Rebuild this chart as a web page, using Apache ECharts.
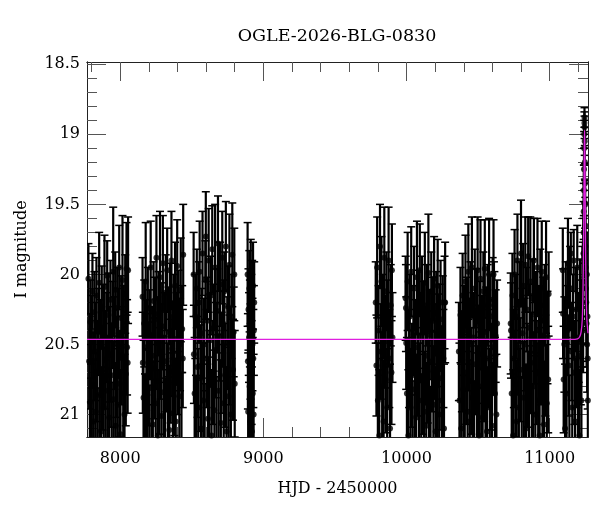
<!DOCTYPE html>
<html>
<head>
<meta charset="utf-8">
<script src="https://cdn.jsdelivr.net/npm/echarts@6/dist/echarts.min.js"></script>
<style>html,body{margin:0;padding:0;background:#fff;}#c{width:600px;height:512px;}</style>
</head>
<body>
<div id="c"></div>
<script>
// ---- data: [HJD-2450000, I mag, error] per observing season ----
const season1 = [[7778,20.03,.25],[7783,20.62,.34],[7788,20.91,.41],[7792,20.34,.30],[7797,21.22,.48],[7801,20.48,.33],[7806,20.12,.27],[7811,20.79,.38],[7815,21.05,.44],[7820,20.27,.29],[7825,20.55,.35],[7829,20.98,.42],[7834,20.15,.27],[7839,20.69,.36],[7843,21.31,.50],[7848,20.41,.31],[7853,20.06,.36],[7857,20.86,.40],[7862,20.52,.34],[7867,21.12,.46],[7871,20.23,.29],[7876,20.74,.37],[7881,20.38,.31],[7885,20.95,.42],[7890,20.09,.37],[7895,20.61,.35],[7899,21.18,.47],[7904,20.45,.32],[7909,20.01,.25],[7913,20.83,.39],[7918,20.29,.30],[7923,21.02,.44],[7927,20.57,.34],[7932,20.18,.28],[7937,20.72,.37],[7941,21.26,.49],[7946,20.36,.31],[7951,19.98,.46],[7955,20.89,.41],[7960,20.49,.33],[7965,20.11,.27],[7969,21.08,.45],[7974,20.66,.36],[7979,20.24,.29],[7983,20.93,.42],[7988,20.42,.32],[7993,19.95,.30],[7997,20.78,.38],[8002,21.14,.46],[8007,20.31,.30],[8011,20.58,.35],[8016,20.04,.46],[8021,20.85,.40],[8025,20.39,.31],[8030,21.0,.43],[8035,20.14,.28],[8039,20.71,.37],[8044,19.96,.33],[8048,20.52,.34],[8052,20.63,.36],[8055,19.97,.38]];
const season2 = [[8156,20.16,.28],[8158,20.63,.36],[8163,20.88,.41],[8168,20.35,.31],[8173,21.19,.48],[8178,20.05,.42],[8183,20.52,.34],[8188,20.97,.43],[8193,20.24,.29],[8198,20.71,.37],[8203,21.29,.50],[8208,20.43,.32],[8213,19.95,.33],[8218,20.81,.39],[8223,20.58,.35],[8228,21.07,.45],[8233,20.19,.28],[8238,20.67,.36],[8243,20.32,.30],[8248,20.92,.42],[8253,19.88,.30],[8258,20.49,.33],[8263,21.15,.47],[8268,20.28,.30],[8273,20.76,.38],[8278,20.02,.47],[8283,20.55,.34],[8288,21.01,.44],[8293,20.37,.31],[8298,19.92,.34],[8303,20.84,.40],[8308,20.45,.32],[8313,21.23,.49],[8318,20.13,.27],[8323,20.62,.36],[8328,19.97,.30],[8333,20.9,.41],[8338,20.41,.32],[8343,21.11,.46],[8348,20.21,.29],[8353,20.69,.37],[8358,19.9,.35],[8363,20.53,.34],[8368,20.99,.43],[8373,20.3,.30],[8378,20.77,.38],[8383,20.08,.31],[8388,21.05,.45],[8393,20.46,.33],[8398,19.94,.33],[8403,20.64,.36],[8408,20.26,.29],[8413,20.87,.40],[8418,20.5,.33],[8423,20.11,.37],[8428,21.17,.47],[8433,20.39,.31],[8437,20.6,.35],[8440,19.86,.36]];
const season3 = [[8513,20.0,.30],[8515,20.57,.35],[8520,20.85,.40],[8525,20.3,.30],[8530,21.2,.48],[8535,20.1,.28],[8540,20.66,.36],[8545,20.95,.42],[8550,20.2,.29],[8555,19.98,.36],[8560,20.74,.38],[8565,21.1,.46],[8570,20.42,.32],[8575,19.85,.30],[8580,20.9,.41],[8585,20.5,.33],[8590,21.27,.49],[8595,20.04,.28],[8598,19.73,.32],[8603,20.6,.35],[8608,20.33,.31],[8613,21.03,.44],[8618,19.9,.37],[8623,20.79,.39],[8628,20.47,.33],[8633,20.15,.28],[8638,21.15,.47],[8643,19.82,.31],[8648,20.7,.37],[8653,20.38,.31],[8658,20.97,.43],[8663,19.95,.45],[8668,20.54,.34],[8673,21.22,.49],[8678,20.26,.30],[8683,19.78,.34],[8688,20.83,.40],[8693,20.44,.32],[8698,20.07,.30],[8703,21.06,.45],[8708,20.63,.36],[8713,19.88,.33],[8718,20.35,.31],[8723,20.92,.42],[8728,20.12,.28],[8733,20.72,.37],[8738,19.8,.32],[8743,21.12,.46],[8748,20.49,.33],[8753,20.23,.29],[8758,20.87,.40],[8763,19.93,.36],[8768,20.58,.35],[8773,21.0,.44],[8778,20.3,.30],[8783,19.86,.37],[8788,20.68,.36],[8793,20.41,.32],[8797,20.0,.33],[8800,20.78,.38]];
const season4 = [[8890,20.0,.37],[8892,20.62,.34],[8894,20.98,.42],[8896,20.25,.29],[8898,21.2,.48],[8900,20.45,.32],[8902,20.1,.27],[8904,20.8,.39],[8906,20.35,.31],[8908,21.05,.44],[8910,20.55,.34],[8912,20.05,.30],[8914,20.9,.41],[8916,20.3,.30],[8918,20.7,.37],[8920,21.12,.46],[8922,20.18,.28],[8924,20.5,.33],[8926,20.85,.40],[8928,20.08,.31],[8930,20.6,.35],[8932,21.0,.43],[8934,20.4,.32],[8936,20.2,.29]];
const season5 = [[9785,20.2,.29],[9790,20.65,.36],[9795,19.95,.36],[9800,20.9,.41],[9805,20.4,.32],[9810,21.15,.47],[9815,19.8,.30],[9820,20.55,.34],[9825,20.05,.32],[9830,20.8,.39],[9835,20.3,.30],[9840,21.05,.44],[9845,19.88,.36],[9850,20.48,.33],[9855,20.75,.38],[9860,20.12,.28],[9865,20.95,.42],[9870,20.35,.31],[9875,19.9,.38],[9880,20.6,.35],[9885,21.1,.46],[9890,20.22,.29],[9895,20.7,.37],[9898,19.97,.33],[9902,20.45,.32]];
const season6 = [[9994,20.17,.30],[9996,20.24,.31],[9998,20.49,.33],[10003,20.85,.40],[10008,20.05,.35],[10013,21.15,.47],[10018,20.6,.35],[10023,20.3,.30],[10028,20.95,.42],[10033,19.98,.32],[10038,20.72,.37],[10043,21.25,.49],[10048,20.4,.32],[10053,20.1,.30],[10058,20.82,.39],[10063,20.52,.34],[10068,21.02,.44],[10073,20.02,.40],[10078,20.65,.36],[10083,20.27,.30],[10088,20.9,.41],[10093,19.97,.33],[10098,20.45,.32],[10103,21.18,.47],[10108,20.15,.28],[10113,20.76,.38],[10118,20.36,.31],[10123,20.98,.43],[10128,20.06,.36],[10133,20.58,.35],[10138,21.08,.45],[10143,20.22,.29],[10148,20.69,.37],[10153,19.99,.42],[10158,20.87,.40],[10163,20.43,.32],[10168,21.3,.50],[10173,20.12,.28],[10178,20.62,.36],[10183,20.33,.31],[10188,20.93,.42],[10193,20.03,.30],[10198,20.55,.34],[10203,21.12,.46],[10208,20.28,.30],[10213,20.79,.38],[10218,20.08,.33],[10223,20.47,.33],[10228,21.0,.44],[10233,20.38,.31],[10238,20.2,.30],[10243,20.74,.37],[10248,20.9,.41],[10253,20.32,.31],[10258,20.6,.35],[10262,21.1,.46],[10266,20.2,.33],[10270,20.2,.43]];
const season7 = [[10366,20.55,.35],[10370,20.9,.41],[10377,20.29,.34],[10382,21.1,.46],[10387,20.62,.36],[10392,20.15,.30],[10397,20.82,.39],[10402,20.4,.32],[10407,21.2,.48],[10412,20.05,.33],[10417,20.7,.37],[10422,20.33,.31],[10427,20.98,.43],[10432,19.98,.34],[10437,20.5,.33],[10442,21.05,.44],[10447,20.2,.29],[10452,20.76,.38],[10457,19.95,.36],[10462,20.88,.40],[10467,20.45,.32],[10472,21.25,.49],[10477,20.1,.28],[10482,20.64,.36],[10487,20.26,.30],[10492,20.93,.42],[10497,19.97,.38],[10502,20.57,.35],[10507,21.15,.47],[10512,20.36,.31],[10517,20.03,.42],[10522,20.8,.39],[10527,20.48,.33],[10532,21.02,.44],[10537,20.12,.28],[10542,20.68,.37],[10547,19.96,.35],[10552,20.86,.40],[10557,20.41,.32],[10562,21.12,.46],[10567,20.22,.29],[10572,20.6,.35],[10577,20.0,.40],[10582,20.95,.42],[10587,20.3,.30],[10592,20.73,.38],[10597,21.08,.45],[10602,20.18,.30],[10606,20.52,.34],[10608,20.0,.39],[10611,20.22,.31],[10614,20.28,.30],[10618,20.85,.40],[10623,20.44,.33],[10628,21.0,.43],[10633,20.35,.31]];
const season8 = [[10728,20.35,.36],[10730,20.4,.34],[10735,20.85,.40],[10740,20.15,.30],[10745,21.15,.47],[10750,20.6,.35],[10755,20.0,.32],[10760,20.78,.38],[10765,20.3,.30],[10770,21.05,.44],[10775,19.9,.33],[10780,20.52,.34],[10785,20.95,.42],[10790,20.2,.29],[10795,20.68,.37],[10800,19.85,.38],[10805,21.22,.49],[10810,20.42,.32],[10815,20.08,.30],[10820,20.88,.40],[10825,20.5,.33],[10830,19.93,.34],[10835,21.1,.46],[10840,20.25,.30],[10845,20.72,.37],[10850,19.87,.28],[10855,20.98,.43],[10860,20.38,.31],[10865,20.05,.46],[10870,20.63,.36],[10875,21.28,.50],[10880,20.17,.28],[10885,20.8,.39],[10890,19.9,.30],[10895,20.46,.32],[10900,21.0,.44],[10905,20.28,.30],[10910,20.7,.37],[10915,19.95,.35],[10920,20.9,.41],[10925,20.4,.32],[10930,21.15,.47],[10935,20.1,.28],[10940,20.58,.35],[10945,19.98,.36],[10950,20.83,.40],[10955,20.33,.31],[10960,21.07,.45],[10965,20.22,.29],[10970,20.65,.36],[10975,20.02,.40],[10980,20.92,.42],[10985,20.45,.33],[10990,20.75,.38],[10993,20.14,.30]];
const season9 = [[11092,19.97,.30],[11094,20.28,.32],[11098,20.75,.38],[11103,20.5,.34],[11108,21.1,.46],[11113,20.2,.29],[11118,20.85,.40],[11123,20.4,.32],[11128,19.92,.32],[11133,20.65,.36],[11138,21.2,.48],[11143,20.1,.30],[11148,19.85,.15],[11153,20.55,.35],[11158,20.95,.42],[11163,20.3,.30],[11168,19.9,.22],[11173,20.7,.37],[11178,21.05,.44],[11183,20.25,.30],[11188,20.6,.35],[11193,19.95,.30],[11198,20.88,.40],[11203,20.45,.32],[11208,21.15,.47],[11213,20.18,.29],[11218,20.58,.35],[11222,20.9,.41],[11226,20.35,.31],[11229,20.1,.30],[11232,20.05,.28],[11234,20.4,.30],[11236,19.85,.25],[11237,19.7,.22],[11238,19.55,.20],[11239,19.4,.18],[11240,19.25,.15],[11241,19.1,.12],[11242,19.0,.10],[11243,18.92,.08],[11243.5,18.88,.07],[11244,18.95,.08],[11245,19.05,.10],[11246,19.2,.12],[11247,19.35,.14],[11248,19.5,.17],[11249,19.65,.20],[11250,19.8,.22],[11252,19.95,.25],[11254,20.1,.28],[11256,20.2,.30],[11258,20.35,.31],[11260,20.0,.30],[11262,20.5,.34],[11264,20.3,.32],[11266,20.6,.36],[11267,20.9,.40]];
// model light curve: [HJD-2450000, I mag]
const modelCurve = [[7768,20.464],[11150,20.464],[11195,20.46],[11210,20.445],[11220,20.41],[11228,20.32],[11233,20.12],[11237,19.78],[11240,19.35],[11242,19.08],[11244,18.97],[11246,19.08],[11248,19.35],[11251,19.8],[11255,20.12],[11260,20.32],[11268,20.42]];
// axis ticks
const xMajor = [8000, 9000, 10000, 11000];
const xMinor = [7800,8200,8400,8600,8800,9200,9400,9600,9800,10200,10400,10600,10800,11200];
const yMajor = [18.5, 19, 19.5, 20, 20.5, 21];
const yMinor = [18.6,18.7,18.8,18.9,19.1,19.2,19.3,19.4,19.6,19.7,19.8,19.9,20.1,20.2,20.3,20.4,20.6,20.7,20.8,20.9,21.1];
const titleText = 'OGLE-2026-BLG-0830';
const xName = 'HJD - 2450000';
const yName = 'I magnitude';

const allObs = [].concat(season1, season2, season3, season4, season5, season6, season7, season8, season9);

const FONT = 'DejaVu Serif';
const X_MIN = 7768, X_MAX = 11268, Y_MIN = 18.484, Y_MAX = 21.16;
const tickColor = '#555';
const lineColor = '#222';

function xAxisDef(pos, ticks, len, showLabel, showName) {
  return {
    type: 'value', position: pos, min: X_MIN, max: X_MAX, gridIndex: 0,
    axisLine: { show: true, onZero: false, lineStyle: { color: lineColor, width: 1 } },
    axisTick: { show: true, inside: true, length: len, customValues: ticks, lineStyle: { color: tickColor, width: 1 } },
    axisLabel: { show: showLabel, customValues: ticks, margin: 14, color: '#000', fontFamily: FONT, fontSize: 16,
      formatter: function (v) { return String(v); } },
    splitLine: { show: false },
    name: showName ? xName : '', nameLocation: 'middle', nameGap: 44,
    nameTextStyle: { color: '#000', fontFamily: FONT, fontSize: 16 }
  };
}
function yAxisDef(pos, ticks, len, showLabel, showName) {
  return {
    type: 'value', position: pos, min: Y_MIN, max: Y_MAX, inverse: true, gridIndex: 0,
    axisLine: { show: true, onZero: false, lineStyle: { color: lineColor, width: 1 } },
    axisTick: { show: true, inside: true, length: len, customValues: ticks, lineStyle: { color: tickColor, width: 1 } },
    axisLabel: { show: showLabel, customValues: ticks, margin: 7, color: '#000', fontFamily: FONT, fontSize: 16,
      formatter: function (v) { return String(v); } },
    splitLine: { show: false },
    name: showName ? yName : '', nameLocation: 'middle', nameGap: 57,
    nameTextStyle: { color: '#000', fontFamily: FONT, fontSize: 16 }
  };
}

const chart = echarts.init(document.getElementById('c'), null, { renderer: 'canvas' });
chart.setOption({
  animation: false,
  backgroundColor: '#fff',
  title: {
    text: titleText, left: 332, top: 22, textAlign: 'center',
    textStyle: { fontFamily: FONT, fontSize: 17.5, fontWeight: 'normal', color: '#000' }
  },
  grid: { left: 87, right: 12, top: 62, bottom: 75, containLabel: false },
  xAxis: [
    xAxisDef('bottom', xMajor, 19, true, true),
    xAxisDef('bottom', xMinor, 10, false, false),
    xAxisDef('top', xMajor, 19, false, false),
    xAxisDef('top', xMinor, 10, false, false)
  ],
  yAxis: [
    yAxisDef('left', yMajor, 19, true, true),
    yAxisDef('left', yMinor, 10, false, false),
    yAxisDef('right', yMajor, 19, false, false),
    yAxisDef('right', yMinor, 10, false, false)
  ],
  series: [
    {
      type: 'custom', xAxisIndex: 0, yAxisIndex: 0, clip: true,
      data: allObs, encode: { x: 0, y: 1 },
      renderItem: function (params, api) {
        const t = api.value(0), m = api.value(1), e = api.value(2);
        const a = api.coord([t, m - e]);
        const b = api.coord([t, m + e]);
        const w = 4;
        const st = { stroke: '#000', lineWidth: 2.2 };
        const cs = { stroke: '#000', lineWidth: 1.5 };
        return {
          type: 'group',
          children: [
            { type: 'line', shape: { x1: a[0], y1: a[1], x2: b[0], y2: b[1] }, style: st },
            { type: 'line', shape: { x1: a[0] - w, y1: a[1], x2: a[0] + w, y2: a[1] }, style: cs },
            { type: 'line', shape: { x1: b[0] - w, y1: b[1], x2: b[0] + w, y2: b[1] }, style: cs }
          ]
        };
      },
      z: 2
    },
    {
      type: 'scatter', xAxisIndex: 0, yAxisIndex: 0, clip: true,
      data: allObs.map(function (d) { return [d[0], d[1]]; }),
      symbol: 'circle', symbolSize: 6,
      itemStyle: { color: '#000' }, z: 3
    },
    {
      type: 'line', xAxisIndex: 0, yAxisIndex: 0, clip: true,
      data: modelCurve, showSymbol: false, smooth: 0.3,
      lineStyle: { color: '#e020e0', width: 1.3 }, z: 4
    }
  ]
});
</script>
</body>
</html>
